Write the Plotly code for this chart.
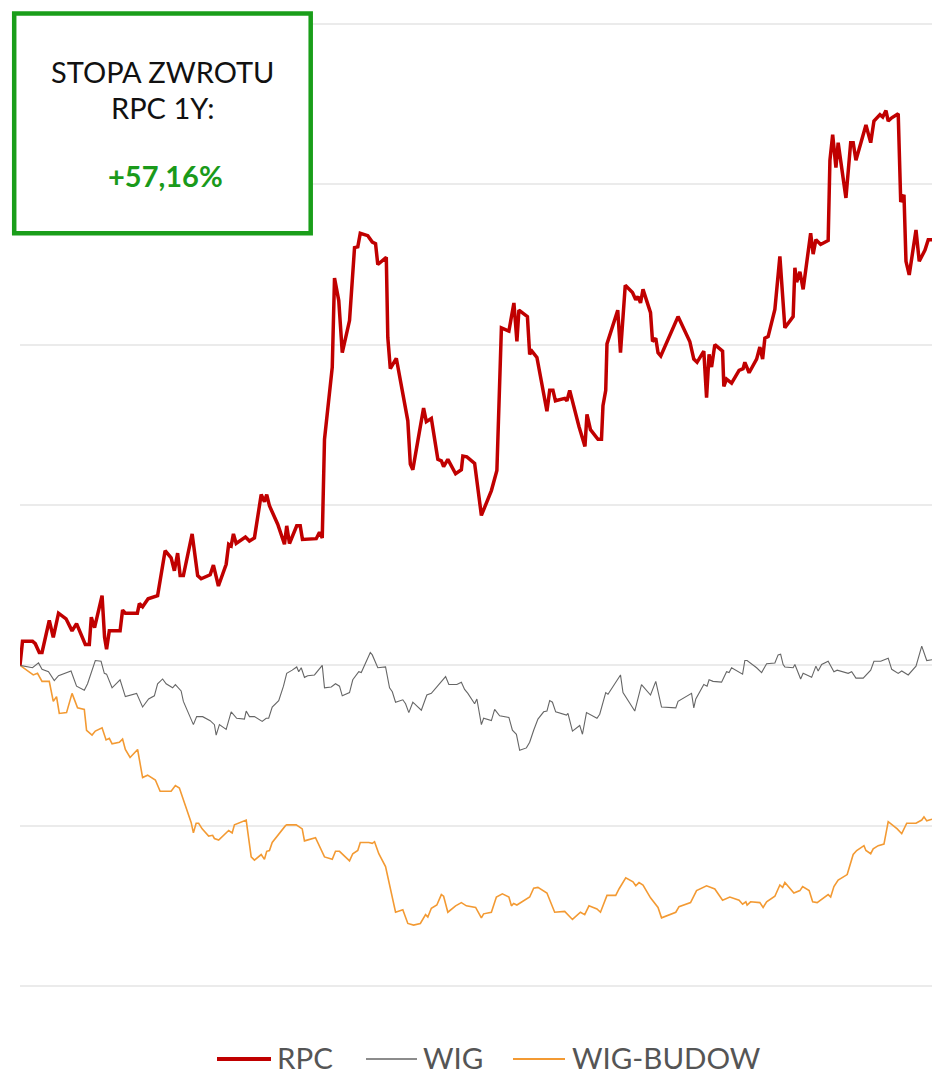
import plotly.graph_objects as go

series_names = ["RPC", "WIG", "WIG-BUDOW"]
series_colors = ["#c00000", "#666666", "#f39a33"]
series_widths = [3.5, 1.1, 1.6]

# RPC - day of year, % return
rpc_day = [0, 1.0, 5.0, 6.1, 7.7, 8.8, 11.7, 13.3, 15.4, 18.4, 20.8, 22.6, 26.1, 27.7, 28.5, 29.8,
           32.8, 33.8, 34.6, 35.7, 40.0, 41.0, 42.1, 46.9, 47.7, 49.0, 51.2, 55.0, 58.0, 60.4, 61.7,
           63.0, 64.0, 65.3, 68.8, 71.0, 72.4, 76.0, 77.3, 79.3, 82.4, 83.4, 84.4, 85.3, 86.4, 90.1,
           91.7, 93.7, 96.4, 97.7, 98.6, 99.7, 103.0, 105.7, 106.6, 107.7, 110.6, 112.0, 112.9, 118.4,
           119.7, 120.8, 121.7, 124.8, 125.7, 127.4, 128.8, 131.7, 133.7, 135.0, 136.0, 139.0, 140.8,
           142.1, 143.0, 144.8, 146.4, 147.0, 148.0, 150.4, 152.4, 155.0, 156.0, 157.0, 159.0, 161.3,
           162.4, 164.4, 167.0, 168.4, 169.3, 171.0, 174.1, 176.4, 177.0, 178.6, 181.7, 184.4, 188.4,
           190.6, 192.4, 195.4, 197.4, 198.6, 199.4, 202.8, 203.7, 204.6, 206.6, 210.6, 211.7, 213.0,
           214.0, 217.7, 218.6, 219.7, 223.4, 225.8, 226.6, 228.0, 231.0, 232.4, 233.0, 234.1, 234.6,
           238.9, 240.0, 241.9, 244.8, 246.1, 247.0, 248.0, 249.0, 252.0, 252.8, 254.1, 255.0, 256.1,
           263.0, 267.7, 269.3, 270.6, 273.3, 274.4, 275.4, 276.4, 277.7, 280.8, 281.3, 282.4, 284.4,
           287.4, 289.0, 289.7, 291.4, 294.4, 295.7, 296.8, 297.7, 299.0, 301.7, 303.7, 305.7, 309.0,
           309.7, 310.4, 311.7, 313.0, 316.0, 317.0, 318.1, 320.0, 323.0, 323.7, 324.8, 326.1, 327.0,
           330.1, 332.0, 333.0, 334.1, 338.1, 340.0, 341.3, 343.7, 344.8, 346.1, 347.0, 348.4, 351.0,
           352.0, 353.3, 354.1, 355.4, 358.1, 359.4, 361.7, 363.0, 364.5]
rpc_pct = [0.0, 3.0, 3.0, 2.7, 1.6, 1.6, 5.6, 3.5, 6.5, 5.8, 4.3, 5.2, 2.6, 2.6, 6.0, 4.7,
           8.7, 3.5, 2.0, 4.3, 4.3, 6.9, 6.5, 6.5, 7.7, 7.3, 8.3, 8.7, 14.3, 13.4, 11.8,
           14.0, 11.2, 11.2, 16.4, 11.2, 10.8, 11.3, 12.5, 9.9, 12.6, 15.1, 14.9, 16.4, 15.2, 16.0,
           15.5, 15.9, 21.3, 20.4, 21.3, 19.9, 17.6, 15.1, 17.4, 15.2, 17.4, 17.4, 15.7, 15.8,
           16.6, 15.9, 28.2, 37.2, 48.3, 45.5, 39.0, 43.0, 52.1, 52.2, 53.9, 53.6, 52.8,
           52.6, 50.0, 50.5, 50.9, 40.9, 37.0, 38.3, 34.9, 30.5, 25.1, 24.4, 28.0, 32.1,
           30.4, 30.8, 25.7, 25.5, 24.8, 25.7, 23.9, 24.4, 26.1, 26.0, 25.2, 18.7, 21.8,
           24.3, 42.1, 41.7, 45.2, 40.4, 44.3, 43.5, 38.8, 39.2, 38.4, 31.7, 34.3, 34.3,
           33.0, 33.3, 33.0, 34.3, 29.8, 27.3, 31.3, 29.4, 28.2, 28.2, 32.4, 34.3, 40.1,
           44.3, 39.0, 47.4, 46.5, 45.6, 46.0, 45.2, 46.9, 44.0, 40.4, 40.8, 39.0, 38.6,
           43.5, 40.4, 38.2, 37.8, 39.2, 33.4, 38.8, 37.2, 40.0, 39.2, 34.8, 35.7, 35.2,
           36.8, 37.0, 37.8, 36.5, 38.2, 39.7, 38.2, 40.8, 41.0, 44.4, 51.0, 42.1, 43.5,
           49.6, 47.8, 49.1, 46.9, 53.9, 51.3, 53.1, 52.5, 53.0, 63.0, 66.2, 62.1, 65.2,
           58.3, 65.2, 65.2, 63.0, 67.4, 65.2, 67.9, 68.7, 68.4, 69.2, 67.9, 68.3, 68.8,
           57.8, 58.7, 50.4, 48.7, 54.3, 50.4, 51.8, 53.1, 53.1]

wig_day = [0, 5.0, 7.4, 8.8, 11.4, 13.7, 15.4, 20.4, 22.6, 25.7, 27.0, 28.4, 30.1, 32.4, 33.7, 34.6,
           36.8, 40.0, 42.1, 46.6, 49.0, 51.4, 53.7, 55.0, 57.0, 58.4, 61.0, 62.1, 64.4, 65.3, 67.4,
           69.3, 70.6, 73.0, 76.0, 77.7, 78.4, 79.7, 82.4, 84.4, 86.6, 89.7, 90.4, 91.7, 93.7, 96.8,
           98.4, 99.4, 100.8, 103.4, 105.3, 106.6, 108.8, 110.6, 111.4, 112.4, 113.7, 115.0, 117.7,
           120.8, 121.7, 124.4, 126.1, 127.7, 128.8, 131.7, 133.0, 135.4, 136.4, 140.0, 140.8, 143.0,
           146.1, 147.7, 148.8, 150.1, 153.0, 154.1, 155.4, 157.0, 160.4, 162.6, 164.4, 170.1, 171.4,
           174.6, 176.4, 177.7, 179.0, 181.7, 182.6, 184.4, 185.3, 188.4, 189.7, 191.7, 195.4, 196.8,
           198.4, 199.7, 202.4, 203.7, 205.3, 207.0, 209.3, 210.6, 211.7, 212.8, 214.1, 218.4, 219.0,
           220.8, 223.7, 224.8, 226.4, 230.6, 231.7, 234.1, 235.0, 240.0, 241.0, 245.7, 248.4, 252.0,
           254.1, 256.4, 262.1, 263.0, 268.4, 269.3, 270.1, 273.3, 274.6, 275.4, 277.0, 280.4, 282.4,
           283.4, 284.4, 288.8, 289.7, 290.6, 294.4, 296.4, 298.4, 301.7, 303.0, 304.0, 305.0, 305.7,
           309.0, 309.7, 312.0, 313.0, 316.4, 318.1, 319.0, 320.4, 323.0, 325.3, 326.6, 331.0, 332.4,
           334.1, 337.0, 340.0, 341.3, 344.0, 347.0, 348.4, 351.0, 352.4, 355.0, 358.1, 360.4, 362.4,
           364.5]
wig_pct = [0.0, -0.3, 0.3, -0.5, -0.8, -1.9, -1.3, -0.7, -2.6, -3.1, -2.3, -0.9, 0.6, 0.5, -1.0, -1.1,
           -2.8, -1.8, -3.9, -3.5, -5.2, -4.2, -3.8, -2.3, -1.7, -2.3, -2.8, -2.4, -3.2, -4.5, -6.0,
           -7.4, -6.4, -6.4, -6.9, -7.4, -8.7, -7.4, -8.0, -5.8, -6.6, -6.7, -5.7, -6.4, -6.4, -7.0,
           -6.6, -6.6, -5.2, -4.4, -2.6, -1.0, -0.6, -0.2, -0.8, -0.3, -1.5, -1.3, -1.2,
           0.0, -2.8, -2.7, -2.3, -2.6, -3.8, -3.4, -1.8, -0.8, -0.9, 1.6, 1.3, -0.3,
           -0.2, -2.8, -3.3, -4.6, -4.3, -4.8, -5.9, -4.6, -5.6, -3.7, -3.5, -1.4, -2.4,
           -2.4, -2.1, -3.0, -3.5, -4.8, -4.2, -7.4, -6.6, -6.9, -5.5, -6.3, -6.5, -8.1,
           -8.6, -10.6, -10.3, -9.6, -8.1, -6.7, -5.8, -5.7, -4.4, -4.6, -5.8, -6.2, -6.0,
           -8.2, -7.5, -8.6, -5.9, -6.6, -6.1, -3.4, -3.6, -1.2, -3.4, -5.7, -2.4, -3.7,
           -2.0, -5.2, -5.3, -4.5, -3.5, -5.3, -4.2, -2.4, -2.6, -1.8, -2.0, -2.1, -0.8,
           -0.9, -0.3, -1.1, 0.6, 0.6, -0.3, -0.9, 0.2, 0.3, 1.3, 1.4, 0.1, -0.2,
           -0.3, 0.1, -1.7, -1.0, -1.5, -0.1, -0.7, 0.1, 0.5, -0.8, -0.6, -1.0, -0.8,
           -1.6, -1.6, -0.6, 0.5, 0.5, 0.9, -0.5, -1.0, -0.7, -1.2, -0.1, 2.4, 0.6,
           0.7]

bud_day = [0, 2.4, 5.3, 7.0, 8.8, 11.7, 13.3, 14.6, 15.7, 18.6, 20.8, 23.0, 25.7, 26.6, 28.8, 30.1,
           32.8, 34.4, 35.7, 36.8, 39.7, 41.0, 42.1, 44.0, 47.0, 49.0, 51.0, 54.1, 56.0, 60.4, 62.1,
           63.7, 67.0, 68.4, 69.3, 70.4, 71.4, 72.8, 75.4, 77.0, 77.7, 79.4, 83.4, 84.8, 85.7, 90.4,
           92.4, 93.7, 96.4, 97.7, 98.6, 99.7, 100.8, 103.0, 106.1, 106.6, 110.4, 112.8, 113.7, 118.1,
           119.7, 121.7, 124.8, 126.1, 127.7, 131.7, 133.0, 135.0, 136.0, 139.4, 140.8, 141.7, 143.4,
           146.1, 150.1, 153.0, 155.0, 157.3, 160.0, 162.1, 163.0, 164.4, 166.6, 168.4, 169.3, 171.0,
           174.1, 176.4, 178.4, 182.1, 184.4, 185.3, 188.4, 190.4, 192.8, 195.4, 196.4, 197.3, 198.6,
           203.7, 205.3, 207.0, 210.6, 213.7, 217.7, 220.8, 224.0, 225.7, 227.4, 230.6, 232.0, 234.6,
           238.1, 239.4, 242.1, 245.0, 246.1, 247.4, 249.0, 252.0, 255.0, 256.4, 262.1, 263.4, 268.0,
           270.4, 274.4, 277.7, 280.8, 283.7, 287.4, 288.8, 290.1, 290.6, 292.0, 295.7, 297.0, 298.4,
           301.7, 303.7, 304.8, 305.7, 309.3, 311.7, 312.8, 315.4, 316.8, 318.6, 323.0, 324.0, 325.3,
           327.0, 330.6, 333.0, 334.4, 337.3, 338.1, 340.0, 341.0, 343.0, 345.3, 347.0, 350.6, 352.4,
           354.4, 358.1, 360.4, 361.3, 362.4, 364.5]
bud_pct = [0.0, -0.5, -1.2, -1.0, -2.0, -2.0, -4.5, -3.9, -6.0, -5.9, -3.5, -5.3, -5.5, -8.1, -8.7, -8.2,
           -7.8, -9.3, -9.1, -9.8, -9.6, -9.2, -10.5, -11.5, -10.5, -14.0, -13.7, -14.3, -15.7, -15.7, -15.0,
           -15.3, -18.4, -19.6, -20.9, -19.7, -19.7, -20.4, -21.3, -21.2, -21.6, -21.8, -20.6, -20.9, -19.9, -19.3,
           -23.9, -24.3, -23.6, -24.2, -23.2, -23.1, -22.1, -21.2, -20.0, -19.9, -19.9, -20.4, -21.9, -21.5,
           -22.5, -23.9, -24.2, -23.2, -23.2, -24.4, -23.5, -23.1, -22.1, -22.1, -22.2, -22.0, -23.5,
           -25.1, -30.8, -30.5, -32.2, -32.4, -32.2, -31.1, -31.4, -30.3, -29.9, -28.6, -28.8, -30.8,
           -30.0, -29.6, -30.0, -30.2, -31.5, -31.0, -30.8, -28.9, -28.5, -28.9, -30.0, -29.7, -29.9,
           -28.9, -27.8, -27.7, -28.4, -30.8, -30.7, -31.7, -30.8, -31.1, -30.0, -30.4, -30.8, -28.7,
           -28.7, -27.9, -26.5, -27.0, -27.5, -27.1, -27.4, -29.0, -30.2, -31.5, -30.8, -30.1, -29.6,
           -28.1, -27.5, -27.9, -29.3, -28.9, -29.3, -29.8, -29.5, -29.9, -29.5, -29.6, -30.2, -29.5,
           -28.8, -27.4, -27.7, -27.1, -28.4, -28.1, -27.6, -28.1, -29.5, -29.6, -28.6, -28.9, -27.6,
           -26.8, -26.1, -23.6, -23.1, -22.5, -23.1, -23.5, -22.9, -22.5, -22.3, -19.5, -20.4, -21.0,
           -19.7, -19.7, -19.3, -18.9, -19.4, -19.2]

y_grid = [-40, -20, 0, 20, 40, 60, 80]
box_lines = ["STOPA ZWROTU", "RPC 1Y:"]
box_value = "+57,16%"

# layout geometry (pixels)
W, H = 932, 1075
ML, MR, MT, MB = 20, 0, 20, 85
PW, PH = W - ML - MR, H - MT - MB


def px_x(px):
    return (px - ML) / PW


def px_y(py):
    return (H - MB - py) / PH


fig = go.Figure()
data = [(rpc_day, rpc_pct), (wig_day, wig_pct), (bud_day, bud_pct)]
for i in [2, 1, 0]:
    fig.add_trace(go.Scatter(x=data[i][0], y=data[i][1], mode="lines", name=series_names[i],
                             line=dict(color=series_colors[i], width=series_widths[i]),
                             showlegend=False))

fig.update_layout(
    width=W, height=H,
    margin=dict(l=ML, r=MR, t=MT, b=MB),
    paper_bgcolor="white", plot_bgcolor="white",
    font=dict(family="Lato", color="#555555"),
    showlegend=False,
    xaxis=dict(range=[0, 364.5], showgrid=False, showticklabels=False, zeroline=False,
               showline=False, ticks=""),
    yaxis=dict(range=[-40.5, 80.5], tickvals=y_grid, showticklabels=False, ticks="",
               gridcolor="#ebebeb", gridwidth=1.5, zeroline=False, showline=False),
    hovermode=False,
)

# legend (drawn as shapes + text, to get the long swatches of the original)
legend_line_px = [(217, 271), (366, 417), (513, 565)]
legend_text_px = [277, 423, 572]
legend_widths = [4, 1.3, 2]
ly = px_y(1057)
for i in range(3):
    x0, x1 = legend_line_px[i]
    fig.add_shape(type="line", xref="paper", yref="paper", x0=px_x(x0), x1=px_x(x1),
                  y0=px_y(1059), y1=px_y(1059),
                  line=dict(color=series_colors[i], width=legend_widths[i]))
    fig.add_annotation(xref="paper", yref="paper", x=px_x(legend_text_px[i]), y=ly,
                       xanchor="left", yanchor="middle", text=series_names[i], showarrow=False,
                       font=dict(family="Lato", size=29.5, color="#555555"),
                       borderwidth=0, borderpad=0)

# "STOPA ZWROTU" box
fig.add_shape(type="rect", xref="paper", yref="paper", layer="above",
              x0=px_x(14.2), x1=px_x(310.7), y0=px_y(233.3), y1=px_y(13.5),
              line=dict(color="#1a9e1a", width=4.5), fillcolor="white")
for txt, cy in zip(box_lines, [71, 107]):
    fig.add_annotation(xref="paper", yref="paper", x=px_x(162.5), y=px_y(cy),
                       xanchor="center", yanchor="middle", text=txt, showarrow=False,
                       font=dict(family="Lato", size=29, color="#111111"),
                       borderwidth=0, borderpad=0)
fig.add_annotation(xref="paper", yref="paper", x=px_x(165), y=px_y(176),
                   xanchor="center", yanchor="middle", text="<b>" + box_value + "</b>",
                   showarrow=False, font=dict(family="Lato", size=29, color="#1a9a1a"),
                   borderwidth=0, borderpad=0)

fig.write_html("out.html", config={"displayModeBar": False},
               post_script="document.body.style.margin='0px';")
